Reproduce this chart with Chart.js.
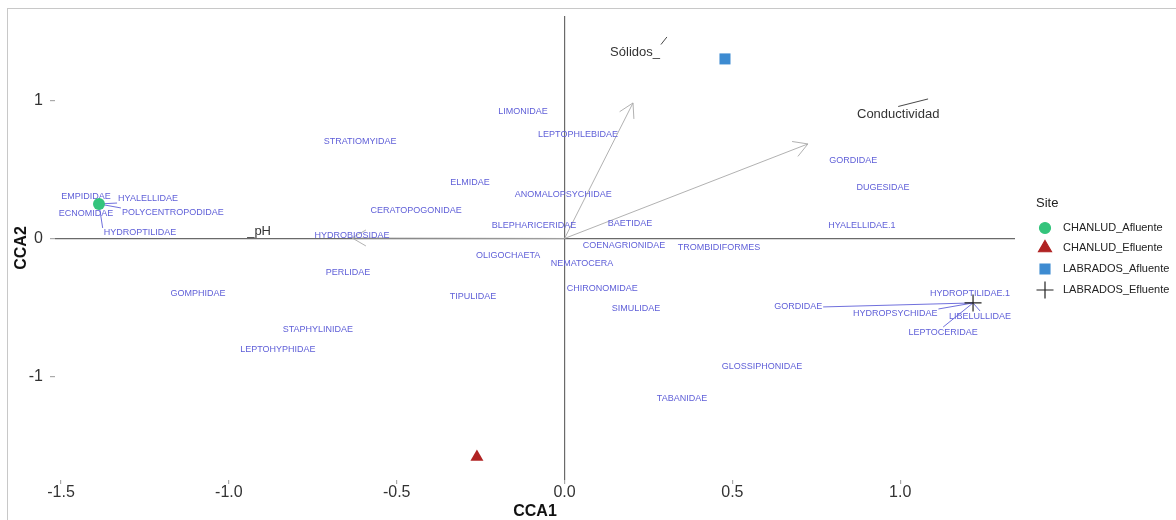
<!DOCTYPE html>
<html>
<head>
<meta charset="utf-8">
<script src="https://cdn.jsdelivr.net/npm/chart.js@4.4.1/dist/chart.umd.min.js"></script>
<style>
	body{margin:0;background:#fff;}
	#grafico{display:block;}
</style>
</head>
<body>
<canvas id="grafico" width="1176" height="520"></canvas>
<script>
// sitios (scores CCA1 / CCA2)
var siteNames=['CHANLUD_Afluente','CHANLUD_Efluente','LABRADOS_Afluente','LABRADOS_Efluente'];
var siteX=[-1.387,-0.261,0.478,1.217];
var siteY=[0.250,-1.583,1.301,-0.467];
var siteColors=['#34c47c','#b02323','#3d8bd1','#222222'];
var siteShapes=['circle','triangle','rect','cross'];

// variables ambientales: punta de flecha, etiqueta y punto del segmento
var envNames=['Sólidos_','Conductividad','_pH'];
var envTipX=[0.204,0.725,-0.633];
var envTipY=[0.982,0.685,0.004];
var envLabX=[0.210,0.994,-0.910];
var envLabY=[1.351,0.902,0.054];
var envPtX=[0.305,1.083,null];
var envPtY=[1.460,1.011,null];

// especies: posicion de la etiqueta y punto real (null = sin segmento)
var spNames=['LIMONIDAE','LEPTOPHLEBIDAE','STRATIOMYIDAE','ELMIDAE','ANOMALOPSYCHIDAE','CERATOPOGONIDAE',
	'BLEPHARICERIDAE','BAETIDAE','HYDROBIOSIDAE','COENAGRIONIDAE','TROMBIDIFORMES','OLIGOCHAETA',
	'NEMATOCERA','PERLIDAE','CHIRONOMIDAE','TIPULIDAE','SIMULIDAE','GOMPHIDAE','STAPHYLINIDAE',
	'LEPTOHYPHIDAE','GLOSSIPHONIDAE','TABANIDAE','GORDIDAE','DUGESIDAE','HYALELLIDAE.1','GORDIDAE',
	'HYDROPTILIDAE.1','HYDROPSYCHIDAE','LIBELULLIDAE','LEPTOCERIDAE','EMPIDIDAE','HYALELLIDAE',
	'ECNOMIDAE','POLYCENTROPODIDAE','HYDROPTILIDAE'];
var spX=[-0.124,0.040,-0.609,-0.282,-0.004,-0.442,
	-0.091,0.195,-0.633,0.177,0.460,-0.168,
	0.052,-0.645,0.112,-0.273,0.213,-1.092,-0.735,
	-0.854,0.588,0.350,0.860,0.949,0.886,0.696,
	1.208,0.985,1.238,1.128,-1.426,-1.241,
	-1.426,-1.167,-1.265];
var spY=[0.917,0.750,0.699,0.402,0.322,0.199,
	0.091,0.112,0.025,-0.054,-0.062,-0.120,
	-0.185,-0.250,-0.359,-0.417,-0.504,-0.402,-0.663,
	-0.801,-0.931,-1.163,0.562,0.366,0.091,-0.496,
	-0.402,-0.547,-0.562,-0.678,0.301,0.293,
	0.178,0.185,0.040];
var spPtX=[null,null,null,null,null,null,null,null,null,null,null,null,null,null,null,null,null,null,null,
	null,null,null,null,null,null,1.217,
	null,1.217,1.217,1.217,null,-1.387,
	null,-1.387,-1.387];
var spPtY=[null,null,null,null,null,null,null,null,null,null,null,null,null,null,null,null,null,null,null,
	null,null,null,null,null,null,-0.467,
	null,-0.467,-0.467,-0.467,null,0.250,
	null,0.250,0.250];

var xTicks=[-1.5,-1.0,-0.5,0.0,0.5,1.0];
var yTicks=[-1,0,1];

var fuente='"Liberation Sans", Arial, sans-serif';
var colorEsp='#6060d8';

function conectar(ctx,cx,cy,w,h,px,py){
	var x1=cx-w/2, x2=cx+w/2, y1=cy-h/2, y2=cy+h/2;
	var ex=cx, ey=cy;
	if (px<x1) {ex=x1;} else if (px>x2) {ex=x2;}
	if (py<y1) {ey=y1;} else if (py>y2) {ey=y2;}
	if (ex===cx && ey===cy) return;
	if (Math.hypot(px-ex,py-ey)<5) return;
	ctx.beginPath();
	ctx.moveTo(ex,ey);
	ctx.lineTo(px,py);
	ctx.stroke();
}

function flecha(ctx,x0,y0,x1,y1){
	var ang=Math.atan2(y1-y0,x1-x0);
	var largo=16, abre=Math.PI/6;
	ctx.beginPath();
	ctx.moveTo(x0,y0);
	ctx.lineTo(x1,y1);
	ctx.moveTo(x1-largo*Math.cos(ang-abre),y1-largo*Math.sin(ang-abre));
	ctx.lineTo(x1,y1);
	ctx.lineTo(x1-largo*Math.cos(ang+abre),y1-largo*Math.sin(ang+abre));
	ctx.stroke();
}

function marcador(ctx,estilo,color,r,x,y){
	ctx.save();
	ctx.fillStyle=color;
	ctx.strokeStyle=color;
	ctx.lineWidth=1.2;
	if (Chart.helpers && Chart.helpers.drawPoint) {
		Chart.helpers.drawPoint(ctx,{pointStyle:estilo,radius:r,rotation:0,borderWidth:1.2},x,y);
	} else {
		ctx.beginPath();
		ctx.arc(x,y,r,0,Math.PI*2);
		ctx.fill();
	}
	ctx.restore();
}

var capas={
	id:'capas',
	beforeDatasetsDraw:function(chart){
		var ctx=chart.ctx, sx=chart.scales.x, sy=chart.scales.y;
		var ox=sx.getPixelForValue(0), oy=sy.getPixelForValue(0);
		ctx.save();
		// flechas
		ctx.strokeStyle='#a8a8a8';
		ctx.lineWidth=0.9;
		for (var i=0;i<envNames.length;i++) {
			flecha(ctx,ox,oy,sx.getPixelForValue(envTipX[i]),sy.getPixelForValue(envTipY[i]));
		}
		// especies
		ctx.font='9px '+fuente;
		ctx.textAlign='center';
		ctx.textBaseline='middle';
		ctx.fillStyle=colorEsp;
		ctx.strokeStyle=colorEsp;
		ctx.lineWidth=0.9;
		for (var j=0;j<spNames.length;j++) {
			var lx=sx.getPixelForValue(spX[j]), ly=sy.getPixelForValue(spY[j]);
			if (spPtX[j]!==null) {
				var w=ctx.measureText(spNames[j]).width+2;
				conectar(ctx,lx,ly,w,10,sx.getPixelForValue(spPtX[j]),sy.getPixelForValue(spPtY[j]));
			}
			ctx.fillText(spNames[j],lx,ly);
		}
		// etiquetas ambientales
		ctx.font='13px '+fuente;
		ctx.fillStyle='#333';
		ctx.strokeStyle='#333';
		for (var k=0;k<envNames.length;k++) {
			var ex=sx.getPixelForValue(envLabX[k]), ey=sy.getPixelForValue(envLabY[k]);
			if (envPtX[k]!==null) {
				var we=ctx.measureText(envNames[k]).width+2;
				conectar(ctx,ex,ey,we,15,sx.getPixelForValue(envPtX[k]),sy.getPixelForValue(envPtY[k]));
			}
			ctx.fillText(envNames[k],ex,ey);
		}
		ctx.restore();
	},
	afterDraw:function(chart){
		var ctx=chart.ctx;
		ctx.save();
		// leyenda
		ctx.fillStyle='#222';
		ctx.textAlign='left';
		ctx.textBaseline='middle';
		ctx.font='13px '+fuente;
		ctx.fillText('Site',1036,203);
		ctx.font='11px '+fuente;
		var filas=[228,248,269,290];
		var radios=[5.5,7.5,7,8.5];
		for (var i=0;i<siteNames.length;i++) {
			marcador(ctx,siteShapes[i],siteColors[i],radios[i],1045,filas[i]);
			ctx.fillStyle='#222';
			ctx.fillText(siteNames[i],1063,filas[i]);
		}
		// marco gris
		ctx.strokeStyle='#c8c8c8';
		ctx.lineWidth=1;
		ctx.strokeRect(7.5,8.5,chart.width,chart.height);
		ctx.restore();
	}
};

var datasets=[];
var radiosPunto=[6,7.5,7.8,8.5];
for (var i=0;i<siteNames.length;i++) {
	datasets.push({
		label:siteNames[i],
		data:[{x:siteX[i],y:siteY[i]}],
		pointStyle:siteShapes[i],
		pointRadius:radiosPunto[i],
		backgroundColor:siteColors[i],
		borderColor:siteColors[i],
		borderWidth:siteShapes[i]==='cross'?1.2:0
	});
}

var config={
	type:'scatter',
	data:{datasets:datasets},
	options:{
		responsive:false,
		animation:false,
		layout:{padding:{left:0,right:161,top:16,bottom:0}},
		plugins:{
			legend:{display:false},
			tooltip:{enabled:false}
		},
		scales:{
			x:{
				type:'linear',
				min:-1.518,
				max:1.342,
				afterBuildTicks:function(s){ s.ticks=xTicks.map(function(v){return {value:v};}); },
				afterFit:function(s){ s.height=40; },
				border:{display:false},
				grid:{
					color:function(c){ return c.tick && c.tick.value===0 ? '#6a6a6a' : 'rgba(0,0,0,0)'; },
					lineWidth:1.2,
					tickColor:'#aaa',
					tickLength:4
				},
				ticks:{
					padding:1,
					color:'#333',
					font:{family:fuente,size:16,lineHeight:1},
					callback:function(v){ return Number(v).toFixed(1); }
				},
				title:{
					display:true,
					text:'CCA1',
					color:'#111',
					font:{family:fuente,size:16,weight:'bold',lineHeight:1},
					padding:{top:0,bottom:0}
				}
			},
			y:{
				type:'linear',
				min:-1.75,
				max:1.612,
				afterBuildTicks:function(s){ s.ticks=yTicks.map(function(v){return {value:v};}); },
				afterFit:function(s){ s.width=55; },
				border:{display:false},
				grid:{
					color:function(c){ return c.tick && c.tick.value===0 ? '#6a6a6a' : 'rgba(0,0,0,0)'; },
					lineWidth:1.2,
					tickColor:'#aaa',
					tickLength:5
				},
				ticks:{
					padding:7,
					color:'#333',
					font:{family:fuente,size:16,lineHeight:1},
					callback:function(v){ return String(v); }
				},
				title:{
					display:true,
					text:'CCA2',
					color:'#111',
					font:{family:fuente,size:16,weight:'bold',lineHeight:1},
					padding:{top:14,bottom:0}
				}
			}
		}
	},
	plugins:[capas]
};

var ctx=document.getElementById('grafico').getContext('2d');
window.graficoCCA=new Chart(ctx,config);
</script>
</body>
</html>
